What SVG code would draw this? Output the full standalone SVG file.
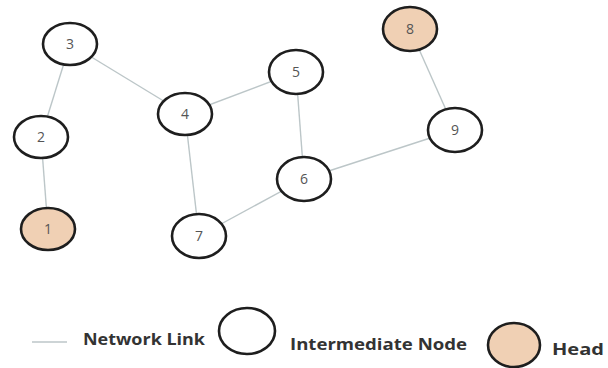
<svg xmlns="http://www.w3.org/2000/svg" width="608" height="368" viewBox="0 0 608 368">
<style>
.n{fill:#fff;stroke:#1e1e1e;stroke-width:2.6}
.h{fill:#f0d0b4;stroke:#1e1e1e;stroke-width:2.6}
.t{font-family:"Open Sans","Liberation Sans",sans-serif;font-size:14px;fill:#555;text-anchor:middle}
.e{stroke:#bcc6c8;stroke-width:1.4;fill:none}
.l{font-family:"Open Sans","Liberation Sans",sans-serif;font-size:16px;font-weight:bold;fill:#333}
</style>
<rect width="608" height="368" fill="#fff"/>
<g id="connectors">
<line class="e" x1="70" y1="44" x2="41" y2="137"/>
<line class="e" x1="41" y1="137" x2="48" y2="229"/>
<line class="e" x1="70" y1="44" x2="185" y2="114"/>
<line class="e" x1="185" y1="114" x2="296" y2="72"/>
<line class="e" x1="185" y1="114" x2="199" y2="236"/>
<line class="e" x1="296" y1="72" x2="304" y2="179"/>
<line class="e" x1="304" y1="179" x2="199" y2="236"/>
<line class="e" x1="304" y1="179" x2="455" y2="130"/>
<line class="e" x1="410" y1="29" x2="455" y2="130"/>
</g>
<g id="node3"><ellipse class="n" cx="70" cy="44" rx="27" ry="21"/><text class="t" x="70" y="49">3</text></g>
<g id="node2"><ellipse class="n" cx="41" cy="137" rx="27" ry="21"/><text class="t" x="41" y="142">2</text></g>
<g id="node1"><ellipse class="h" cx="48" cy="229" rx="27" ry="21"/><text class="t" x="48" y="234">1</text></g>
<g id="node4"><ellipse class="n" cx="185" cy="114" rx="27" ry="21"/><text class="t" x="185" y="119">4</text></g>
<g id="node7"><ellipse class="n" cx="199" cy="236" rx="27" ry="22"/><text class="t" x="199" y="241">7</text></g>
<g id="node5"><ellipse class="n" cx="296" cy="72" rx="27" ry="22"/><text class="t" x="296" y="77">5</text></g>
<g id="node6"><ellipse class="n" cx="304" cy="179" rx="27" ry="22"/><text class="t" x="304" y="184">6</text></g>
<g id="node8"><ellipse class="h" cx="410" cy="29" rx="27" ry="22"/><text class="t" x="410" y="34">8</text></g>
<g id="node9"><ellipse class="n" cx="455" cy="130" rx="27" ry="22"/><text class="t" x="455" y="135">9</text></g>
<g id="legend">
<line class="e" x1="32" y1="342" x2="67" y2="342"/>
<text class="l" x="83" y="345" textLength="122" lengthAdjust="spacingAndGlyphs">Network Link</text>
<ellipse class="n" cx="247" cy="331" rx="28" ry="23"/>
<text class="l" x="290" y="350" textLength="177" lengthAdjust="spacingAndGlyphs">Intermediate Node</text>
<ellipse class="h" cx="514" cy="345" rx="26" ry="22"/>
<text class="l" x="552" y="355" textLength="52" lengthAdjust="spacingAndGlyphs">Head</text>
</g>
</svg>
